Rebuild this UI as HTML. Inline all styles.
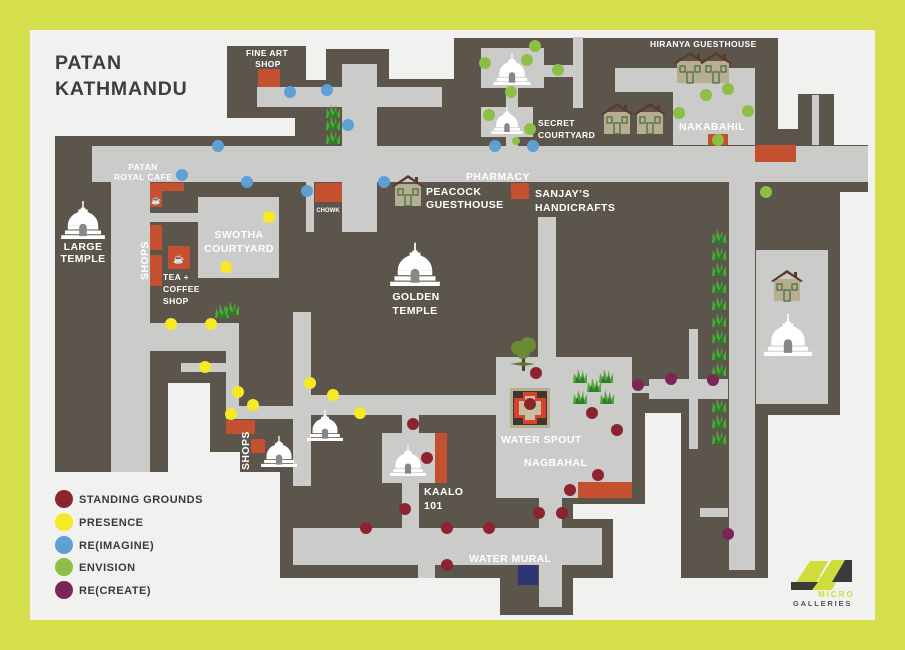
<!DOCTYPE html>
<html><head><meta charset="utf-8"><style>
html,body{margin:0;padding:0;background:#d5df4c;}
svg{display:block}
text{font-family:"Liberation Sans",sans-serif;font-weight:bold;}
.w{fill:#fff;font-size:10.5px;letter-spacing:0.4px}
.s{fill:#fff;font-size:8.5px;letter-spacing:0.4px}
.lg{fill:#3a3a3a;font-size:11px;letter-spacing:0.5px}
</style></head><body>
<svg width="905" height="650" viewBox="0 0 905 650" xmlns="http://www.w3.org/2000/svg">
<defs>
<g id="stupa">
<rect x="-23" y="-4" width="46" height="4" fill="#fff"/>
<rect x="-19" y="-9" width="38" height="4" fill="#fff"/>
<rect x="-16" y="-14" width="32" height="4" fill="#fff"/>
<path d="M-16,-14 A16,15 0 0 1 16,-14 Z" fill="#fff"/>
<rect x="-5" y="-31" width="10" height="3" fill="#fff"/>
<path d="M-4,-28 L4,-28 L2,-33 L-2,-33Z" fill="#fff"/>
<rect x="-0.8" y="-40" width="1.6" height="8" fill="#fff"/>
<path d="M-4,-3 L-4,-12 A4,4 0 0 1 4,-12 L4,-3Z" fill="#888"/>
</g>
<g id="house">
<rect x="-13" y="-18" width="26" height="22" fill="#b7ad91"/>
<path d="M-16,-16 L0,-27 L16,-16 L14,-15 L0,-24 L-14,-15Z" fill="#5a3a2a"/>
<rect x="7" y="-25" width="3" height="5" fill="#5a3a2a"/>
<rect x="-10" y="-13" width="5" height="6" fill="none" stroke="#3e6b3f" stroke-width="1.2"/>
<rect x="5" y="-13" width="5" height="6" fill="none" stroke="#3e6b3f" stroke-width="1.2"/>
<rect x="-3" y="-7" width="6" height="11" fill="none" stroke="#3e6b3f" stroke-width="1.2"/>
</g>
<g id="grass">
<path d="M-7,0 L-6,-10 L-3,-4 L-2,-14 L1,-5 L3,-13 L4,-4 L7,-10 L7,0Z" fill="#4fa83a"/>
<path d="M-5,0 L-3,-7 L0,-2 L3,-8 L5,0Z" fill="#2f7d2a"/>
</g>
</defs>
<rect x="0" y="0" width="905" height="650" fill="#d5df4c"/>
<rect x="30" y="30" width="845" height="590" fill="#f1f1f0"/>
<!-- brown map -->
<path fill="#5c554b" d="M227,46 L306,46 L306,80 L326,80 L326,49 L389,49 L389,79 L454,79 L454,38 L778,38 L778,129 L798,129 L798,94 L834,94 L834,145 L868,145 L868,192 L840,192 L840,415 L768,415 L768,578 L681,578 L681,413 L645,413 L645,504 L573,504 L573,519 L613,519 L613,578 L573,578 L573,615 L500,615 L500,578 L280,578 L280,472 L240,472 L240,452 L210,452 L210,383 L168,383 L168,472 L55,472 L55,136 L295,136 L295,118 L227,118 Z"/>
<!-- gray paths -->
<g fill="#cbcbca">
<rect x="257" y="87" width="185" height="20"/>
<rect x="342" y="64" width="35" height="90"/>
<rect x="92" y="146" width="776" height="36"/>
<rect x="306" y="182" width="8" height="50"/>
<rect x="342" y="182" width="35" height="50"/>
<rect x="111" y="182" width="39" height="290"/>
<rect x="150" y="213" width="48" height="9"/>
<rect x="198" y="197" width="81" height="81"/>
<rect x="150" y="323" width="89" height="28"/>
<rect x="226" y="323" width="13" height="96"/>
<rect x="181" y="363" width="45" height="9"/>
<rect x="226" y="406" width="67" height="13"/>
<rect x="293" y="312" width="18" height="174"/>
<rect x="311" y="395" width="185" height="20"/>
<rect x="382" y="433" width="53" height="50"/>
<rect x="402" y="415" width="17" height="113"/>
<rect x="293" y="528" width="309" height="37"/>
<rect x="418" y="565" width="17" height="13"/>
<rect x="539" y="565" width="23" height="42"/>
<rect x="539" y="498" width="23" height="30"/>
<rect x="496" y="357" width="136" height="141"/>
<rect x="538" y="217" width="18" height="140"/>
<rect x="632" y="386" width="17" height="7"/>
<rect x="649" y="379" width="79" height="20"/>
<rect x="689" y="329" width="9" height="120"/>
<rect x="729" y="182" width="26" height="388"/>
<rect x="700" y="508" width="28" height="9"/>
<rect x="756" y="250" width="72" height="154"/>
<rect x="615" y="68" width="140" height="24"/>
<rect x="673" y="68" width="82" height="77"/>
<rect x="573" y="37" width="10" height="71"/>
<rect x="481" y="48" width="63" height="40"/>
<rect x="544" y="65" width="29" height="12"/>
<rect x="506" y="88" width="12" height="19"/>
<rect x="481" y="107" width="52" height="30"/>
<rect x="506" y="137" width="12" height="9"/>
<rect x="812" y="95" width="7" height="50"/>
</g>
<!-- orange -->
<g fill="#c4502f">
<rect x="258" y="69" width="22" height="18"/>
<rect x="315" y="183" width="27" height="19"/>
<rect x="150" y="183" width="34" height="8"/>
<rect x="150" y="183" width="12" height="24"/>
<rect x="150" y="225" width="12" height="25"/>
<rect x="150" y="255" width="12" height="31"/>
<rect x="168" y="246" width="22" height="23"/>
<rect x="511" y="183" width="18" height="16"/>
<rect x="755" y="145" width="41" height="17"/>
<rect x="708" y="134" width="20" height="11"/>
<rect x="226" y="420" width="29" height="14"/>
<rect x="251" y="439" width="14" height="14"/>
<rect x="435" y="433" width="12" height="50"/>
<rect x="578" y="482" width="54" height="16"/>
</g>
<text x="151" y="203" fill="#fff" font-size="8">☕</text>
<text x="173" y="262" fill="#fff" font-size="9">☕</text>
<rect x="518" y="565" width="20" height="20" fill="#2d3670"/>
<!-- water spout -->
<rect x="510" y="388" width="40" height="40" fill="#b7ad91"/>
<rect x="513" y="391" width="34" height="34" fill="#3d3530"/>
<path d="M523,392 L537,392 L537,398 L546,398 L546,418 L537,418 L537,424 L523,424 L523,418 L514,418 L514,398 L523,398Z" fill="#d9412f"/>
<path d="M525,396 L535,396 L535,401 L541,401 L541,415 L535,415 L535,420 L525,420 L525,415 L519,415 L519,401 L525,401Z" fill="#c9bfa0"/>
<!-- tree -->
<rect x="522" y="355" width="3" height="16" fill="#5a3a2a"/>
<path d="M510,364 L522,362 L535,364 L524,366Z" fill="#5a7a2a"/>
<circle cx="518" cy="348" r="7" fill="#6b8a34"/>
<circle cx="528" cy="345" r="8" fill="#6b8a34"/>
<circle cx="523" cy="352" r="7" fill="#6b8a34"/>
<!-- grass -->
<use href="#grass" x="333" y="118"/><use href="#grass" x="333" y="130"/><use href="#grass" x="333" y="144"/>
<use href="#grass" x="222" y="318"/><use href="#grass" x="232" y="315"/>
<use href="#grass" x="719" y="243"/><use href="#grass" x="719" y="260"/><use href="#grass" x="719" y="276"/><use href="#grass" x="719" y="293"/><use href="#grass" x="719" y="310"/><use href="#grass" x="719" y="327"/><use href="#grass" x="719" y="343"/><use href="#grass" x="719" y="360"/><use href="#grass" x="719" y="376"/><use href="#grass" x="719" y="412"/><use href="#grass" x="719" y="428"/><use href="#grass" x="719" y="444"/>
<use href="#grass" x="580" y="383"/><use href="#grass" x="606" y="383"/><use href="#grass" x="594" y="392"/><use href="#grass" x="580" y="404"/><use href="#grass" x="607" y="404"/>
<!-- stupas -->
<use href="#stupa" transform="translate(83,239) scale(0.95)"/>
<use href="#stupa" transform="translate(415,286) scale(1.08)"/>
<use href="#stupa" transform="translate(512,85) scale(0.8)"/>
<use href="#stupa" transform="translate(507,134) scale(0.68)"/>
<use href="#stupa" transform="translate(279,467) scale(0.78)"/>
<use href="#stupa" transform="translate(325,441) scale(0.78)"/>
<use href="#stupa" transform="translate(408,476) scale(0.78)"/>
<use href="#stupa" transform="translate(788,356) scale(1.05)"/>
<!-- houses -->
<use href="#house" x="408" y="202"/>
<use href="#house" x="690" y="79"/><use href="#house" x="716" y="79"/>
<use href="#house" x="617" y="130"/><use href="#house" x="650" y="130"/>
<use href="#house" x="787" y="297"/>
<!-- dots -->
<g fill="#5e9fd4">
<circle cx="290" cy="92" r="6"/><circle cx="327" cy="90" r="6"/><circle cx="348" cy="125" r="6"/><circle cx="218" cy="146" r="6"/><circle cx="182" cy="175" r="6"/><circle cx="247" cy="182" r="6"/><circle cx="307" cy="191" r="6"/><circle cx="384" cy="182" r="6"/><circle cx="495" cy="146" r="6"/><circle cx="533" cy="146" r="6"/>
</g>
<g fill="#8dbf45">
<circle cx="535" cy="46" r="6"/><circle cx="485" cy="63" r="6"/><circle cx="527" cy="60" r="6"/><circle cx="558" cy="70" r="6"/><circle cx="511" cy="92" r="6"/><circle cx="489" cy="115" r="6"/><circle cx="530" cy="129" r="6"/><circle cx="516" cy="141" r="4"/><circle cx="706" cy="95" r="6"/><circle cx="728" cy="89" r="6"/><circle cx="679" cy="113" r="6"/><circle cx="748" cy="111" r="6"/><circle cx="718" cy="140" r="6"/><circle cx="766" cy="192" r="6"/>
</g>
<g fill="#f8e925">
<circle cx="269" cy="217" r="6"/><circle cx="226" cy="267" r="6"/><circle cx="171" cy="324" r="6"/><circle cx="211" cy="324" r="6"/><circle cx="205" cy="367" r="6"/><circle cx="238" cy="392" r="6"/><circle cx="253" cy="405" r="6"/><circle cx="231" cy="414" r="6"/><circle cx="310" cy="383" r="6"/><circle cx="333" cy="395" r="6"/><circle cx="360" cy="413" r="6"/>
</g>
<g fill="#8c2430">
<circle cx="413" cy="424" r="6"/><circle cx="427" cy="458" r="6"/><circle cx="405" cy="509" r="6"/><circle cx="366" cy="528" r="6"/><circle cx="447" cy="528" r="6"/><circle cx="489" cy="528" r="6"/><circle cx="447" cy="565" r="6"/><circle cx="536" cy="373" r="6"/><circle cx="530" cy="404" r="6"/><circle cx="592" cy="413" r="6"/><circle cx="617" cy="430" r="6"/><circle cx="598" cy="475" r="6"/><circle cx="570" cy="490" r="6"/><circle cx="539" cy="513" r="6"/><circle cx="562" cy="513" r="6"/>
</g>
<g fill="#7b2656">
<circle cx="638" cy="385" r="6"/><circle cx="671" cy="379" r="6"/><circle cx="713" cy="380" r="6"/><circle cx="728" cy="534" r="6"/>
</g>
<!-- title -->
<text x="55" y="69" fill="#3d3d3d" font-size="19.5" letter-spacing="0.8">PATAN</text>
<text x="55" y="95" fill="#3d3d3d" font-size="19.5" letter-spacing="0.8">KATHMANDU</text>
<!-- labels -->
<text class="s" x="267" y="56" text-anchor="middle">FINE ART</text>
<text class="s" x="268" y="67" text-anchor="middle">SHOP</text>
<text class="s" x="143" y="170" text-anchor="middle">PATAN</text>
<text class="s" x="143" y="180" text-anchor="middle">ROYAL CAFE</text>
<text x="328" y="212" fill="#fff" font-size="6" text-anchor="middle">CHOWK</text>
<text class="w" x="83" y="250" text-anchor="middle">LARGE</text>
<text class="w" x="83" y="262" text-anchor="middle" font-size="8.5">TEMPLE</text>
<text class="s" x="83" y="250" text-anchor="middle" style="display:none">.</text>
<text class="w" x="239" y="238" text-anchor="middle">SWOTHA</text>
<text class="w" x="239" y="252" text-anchor="middle">COURTYARD</text>
<text class="s" x="163" y="280">TEA +</text>
<text class="s" x="163" y="292">COFFEE</text>
<text class="s" x="163" y="304">SHOP</text>
<text class="w" transform="translate(148,280) rotate(-90)" font-size="10">SHOPS</text>
<text class="w" x="416" y="300" text-anchor="middle">GOLDEN</text>
<text class="w" x="415" y="314" text-anchor="middle">TEMPLE</text>
<text class="w" x="426" y="195">PEACOCK</text>
<text class="w" x="426" y="208">GUESTHOUSE</text>
<text class="w" x="466" y="180">PHARMACY</text>
<text class="w" x="535" y="197">SANJAY’S</text>
<text class="w" x="535" y="211">HANDICRAFTS</text>
<text class="s" x="538" y="126">SECRET</text>
<text class="s" x="538" y="138">COURTYARD</text>
<text class="s" x="650" y="47">HIRANYA GUESTHOUSE</text>
<text class="w" x="679" y="130">NAKABAHIL</text>
<text class="w" x="501" y="443">WATER SPOUT</text>
<text class="w" x="524" y="466">NAGBAHAL</text>
<text class="w" x="424" y="495">KAALO</text>
<text class="w" x="424" y="509">101</text>
<text class="w" x="469" y="562">WATER MURAL</text>
<text class="w" transform="translate(249,470) rotate(-90)" font-size="7.5">SHOPS</text>
<!-- legend -->
<circle cx="64" cy="499" r="9" fill="#8c2430"/><text class="lg" x="79" y="503">STANDING GROUNDS</text>
<circle cx="64" cy="522" r="9" fill="#f8e925"/><text class="lg" x="79" y="526">PRESENCE</text>
<circle cx="64" cy="545" r="9" fill="#5e9fd4"/><text class="lg" x="79" y="549">RE(IMAGINE)</text>
<circle cx="64" cy="567" r="9" fill="#8dbf45"/><text class="lg" x="79" y="571">ENVISION</text>
<circle cx="64" cy="590" r="9" fill="#7b2656"/><text class="lg" x="79" y="594">RE(CREATE)</text>
<!-- logo -->
<path d="M791,590 L810,561 L828,561 L812,590Z" fill="#cfdc3a"/>
<path d="M812,590 L832,560 L852,560 L852,582 L836,582 L832,590Z" fill="#cfdc3a"/>
<path d="M791,590 L791,582 L818,582 L812,590Z" fill="#3a3a3a"/>
<path d="M832,582 L852,582 L852,560 L845,560Z" fill="#3a3a3a"/>
<text x="818" y="597" fill="#cfdc3a" font-size="8" letter-spacing="2">MICRO</text>
<text x="793" y="606" fill="#555" font-size="7.5" font-weight="normal" letter-spacing="1.8">GALLERIES</text>
</svg>
</body></html>
